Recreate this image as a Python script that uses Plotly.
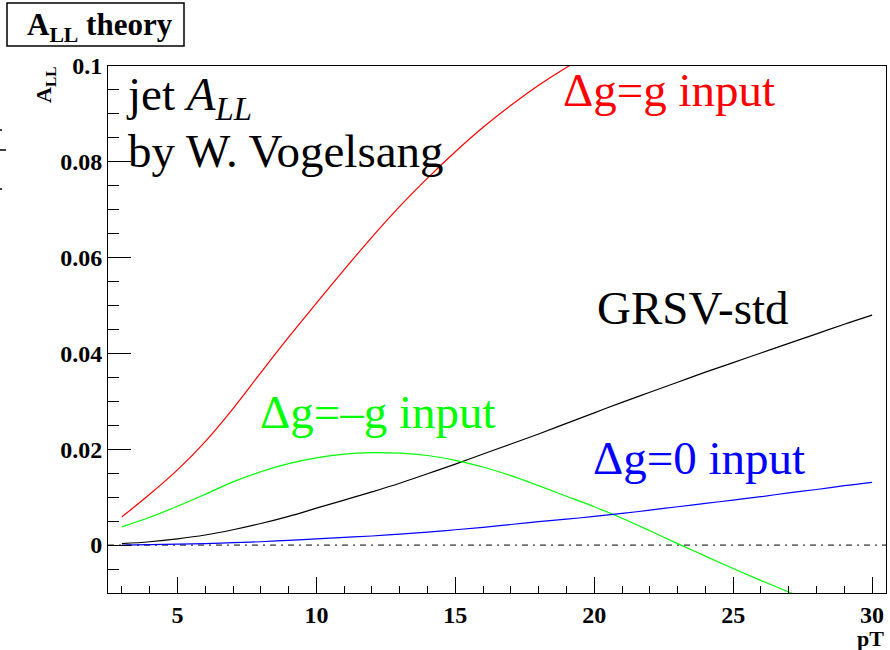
import plotly.graph_objects as go

pt = [3, 4, 5, 6, 7, 8, 9, 10, 11, 12, 13, 14, 15, 16, 17, 18, 19, 20,
      21, 22, 23, 24, 25, 26, 27, 28, 29, 30]

all_dg_g = [0.0059, 0.0106, 0.0157, 0.0216, 0.0285, 0.0360, 0.0434, 0.0505,
            0.0575, 0.0643, 0.0707, 0.0766, 0.0821, 0.0872, 0.0918, 0.0960,
            0.0997, 0.1030]
all_grsv = [0.0003, 0.0007, 0.0013, 0.0021, 0.0032, 0.0045, 0.0060, 0.0077,
            0.0094, 0.0111, 0.0129, 0.0149, 0.0169, 0.0190, 0.0211, 0.0232,
            0.0254, 0.0276, 0.0298, 0.0319, 0.0340, 0.0361, 0.0381, 0.0401,
            0.0421, 0.0441, 0.0461, 0.0480]
all_dg_mg = [0.0038, 0.0058, 0.0081, 0.0106, 0.0132, 0.0153, 0.0170, 0.0182,
             0.0190, 0.0193, 0.0192, 0.0187, 0.0177, 0.0163, 0.0145, 0.0124,
             0.0102, 0.0080, 0.0056, 0.0030, 0.0003, -0.0023, -0.0049,
             -0.0074, -0.0098, -0.0122]
all_dg_0 = [0.0000, 0.0001, 0.0002, 0.0003, 0.0005, 0.0007, 0.0010, 0.0013,
            0.0016, 0.0019, 0.0023, 0.0027, 0.0032, 0.0037, 0.0043, 0.0049,
            0.0054, 0.0060, 0.0066, 0.0073, 0.0080, 0.0087, 0.0094, 0.0101,
            0.0109, 0.0116, 0.0124, 0.0131]

x_range = [2.5, 30.5]
y_range = [-0.01, 0.1]

fig = go.Figure()

# zero reference line
fig.add_trace(go.Scatter(x=x_range, y=[0, 0], mode="lines",
                         line=dict(color="black", width=1, dash="6px,5px,2px,5px"),
                         hoverinfo="skip", showlegend=False))

series = [
    (all_dg_g, "#ff0000"),
    (all_grsv, "#000000"),
    (all_dg_mg, "#00ff00"),
    (all_dg_0, "#0000ff"),
]
for vals, col in series:
    fig.add_trace(go.Scatter(x=pt[:len(vals)], y=vals, mode="lines",
                             line=dict(color=col, width=1.2, shape="spline"),
                             showlegend=False))

L, R, T, B = 108, 4, 66, 57
W, H = 890, 650
pw, ph = W - L - R, H - T - B

def px(xp):
    return (xp - L) / pw

def py(yp):
    return (H - B - yp) / ph

tickfont = dict(family="Liberation Serif", size=24, color="black", weight="bold")

fig.update_xaxes(range=x_range, showgrid=False, zeroline=False,
                 showline=True, linecolor="black", linewidth=1, mirror=True,
                 ticks="inside", ticklen=16, tickwidth=1, tickcolor="black",
                 dtick=5, tick0=0, tickfont=tickfont,
                 minor=dict(ticks="inside", ticklen=7, dtick=1, tick0=0,
                            tickcolor="black", tickwidth=1, showgrid=False))
fig.update_yaxes(range=y_range, showgrid=False, zeroline=False,
                 showline=True, linecolor="black", linewidth=1, mirror=True,
                 ticks="inside", ticklen=23, tickwidth=1, tickcolor="black",
                 dtick=0.02, tick0=0, tickfont=tickfont,
                 minor=dict(ticks="inside", ticklen=11, dtick=0.005, tick0=0,
                            tickcolor="black", tickwidth=1, showgrid=False))

ann_font = "Liberation Serif"
fs = 47

def ann(text, xl, ybase, color, size=fs, family=ann_font):
    center = ybase - 0.3375 * size
    return dict(text=text, xref="paper", yref="paper", x=px(xl), y=py(center),
                xanchor="left", yanchor="middle", showarrow=False,
                font=dict(family=family, size=size, color=color))

annotations = [
    ann("jet <i>A</i><sub><i>LL</i></sub>", 124, 113, "black"),
    ann("by W. Vogelsang", 126, 167, "black"),
    ann("Δg=g input", 561, 106, "#ff0000"),
    ann("GRSV-std", 595, 324, "black"),
    ann("Δg=–g input", 258, 428, "#00ff00"),
    ann("Δg=0 input", 591, 474, "#0000ff"),
    # title
    dict(text="<b>A<sub>LL</sub> theory</b>", xref="paper", yref="paper",
         x=px(100), y=py(27), xanchor="center", yanchor="middle", showarrow=False,
         font=dict(family="Liberation Serif", size=31, color="black")),
    # y-axis title
    dict(text="<b>A<sub>LL</sub></b>", xref="paper", yref="paper",
         x=px(45), y=py(85), xanchor="center", yanchor="middle", showarrow=False,
         textangle=-90,
         font=dict(family="Liberation Serif", size=22, color="black")),
    # x-axis title
    dict(text="<b>pT</b>", xref="paper", yref="paper", borderpad=0,
         x=px(885), y=py(638), xanchor="right", yanchor="middle", showarrow=False,
         font=dict(family="Liberation Serif", size=22, color="black")),
]

shapes = [
    dict(type="rect", xref="paper", yref="paper",
         x0=px(7), x1=px(184), y0=py(46), y1=py(3),
         line=dict(color="black", width=1.5), fillcolor="white", layer="below"),
    dict(type="line", xref="paper", yref="paper",
         x0=px(0), x1=px(6), y0=py(150), y1=py(150),
         line=dict(color="black", width=1.5)),
    dict(type="line", xref="paper", yref="paper",
         x0=px(0), x1=px(2), y0=py(130), y1=py(130),
         line=dict(color="black", width=1.5)),
    dict(type="line", xref="paper", yref="paper",
         x0=px(0), x1=px(2), y0=py(189), y1=py(189),
         line=dict(color="black", width=1.5)),
]

fig.update_layout(width=W, height=H, margin=dict(l=L, r=R, t=T, b=B),
                  paper_bgcolor="white", plot_bgcolor="white",
                  annotations=annotations, shapes=shapes, showlegend=False)

fig.write_html("out.html")
